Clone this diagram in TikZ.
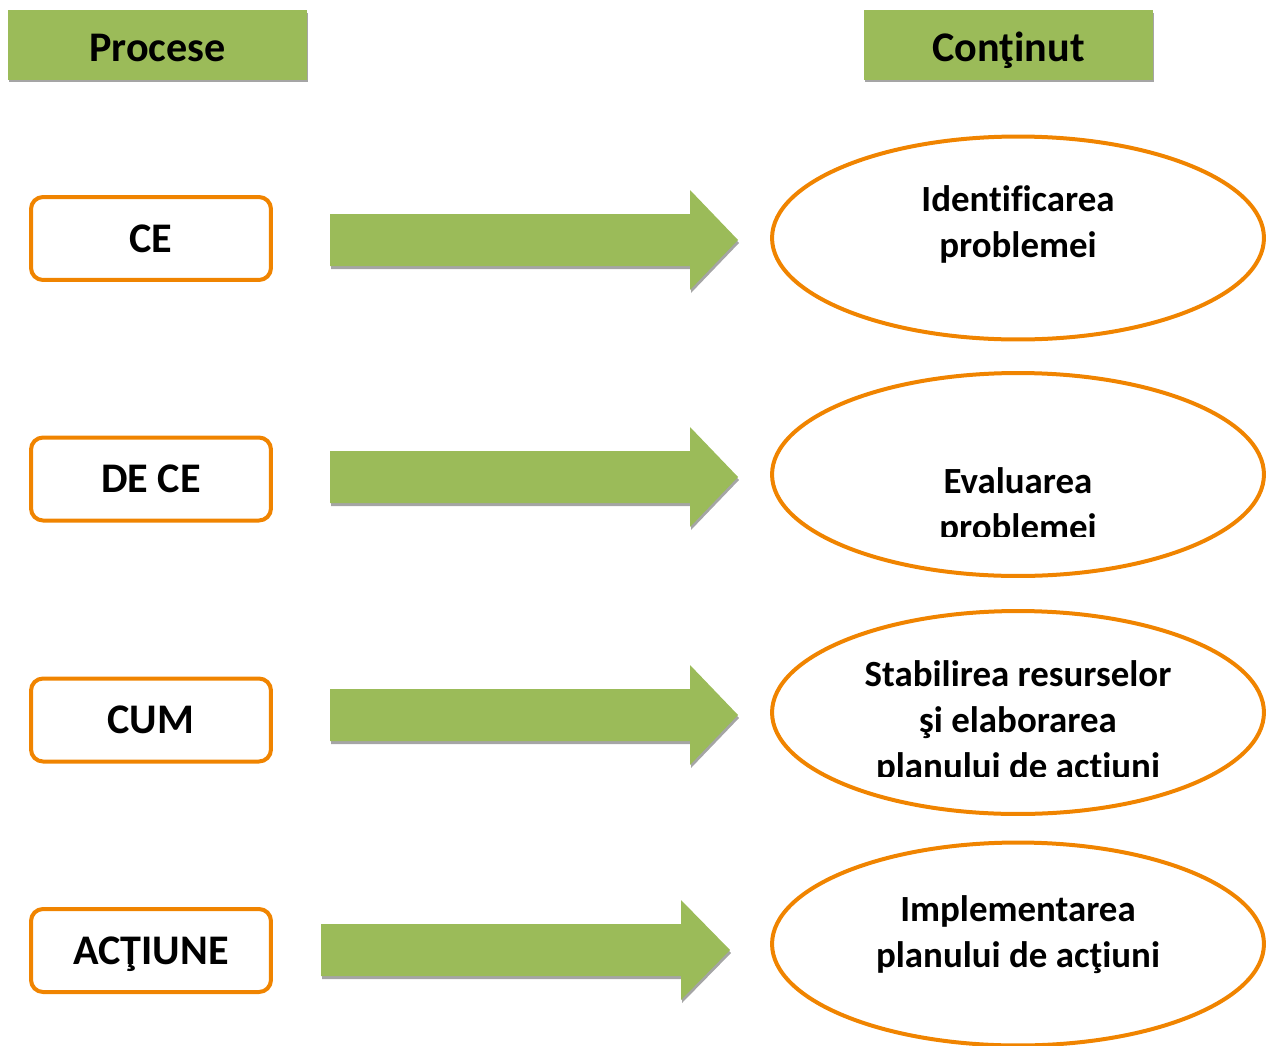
\documentclass[tikz,border=0pt]{standalone}
\usepackage{fontspec}
\setmainfont[Ligatures=NoCommon]{Carlito}
\usetikzlibrary{shapes.geometric,shadows}

\definecolor{hdrgreen}{RGB}{155,187,89}
\definecolor{boxorange}{RGB}{240,132,0}
\definecolor{shadowgray}{RGB}{165,165,165}

\tikzset{
  header/.style={fill=hdrgreen, minimum height=1.4cm, inner sep=0pt,
    text height=0.68cm, text depth=0pt,
    font=\fontsize{24}{29}\selectfont\bfseries,
    drop shadow={shadow xshift=0.02cm, shadow yshift=-0.05cm, fill=shadowgray, opacity=1}},
  procbox/.style={draw=boxorange, line width=0.08cm, rounded corners=0.24cm,
    minimum width=4.8cm, minimum height=1.66cm, inner sep=0pt, text depth=0pt,
    font=\fontsize{24}{29}\selectfont\bfseries},
  greenarrow/.style={fill=hdrgreen,
    drop shadow={shadow xshift=0.02cm, shadow yshift=-0.06cm, fill=shadowgray, opacity=1}},
  contentell/.style={ellipse, draw=boxorange, line width=0.08cm,
    minimum width=9.84cm, minimum height=4.06cm, inner sep=0pt},
  contenttext/.style={align=center, anchor=base, inner sep=0pt,
    font=\fontsize{21}{26}\selectfont\bfseries}
}

\begin{document}
\begin{tikzpicture}[x=0.02cm, y=-0.02cm]
  \useasboundingbox (0,0) rectangle (1274,1045);
  \clip (0,0) rectangle (1274,1045);

  \node[header, minimum width=5.98cm] (procese) at (157.5,45) {Procese};
  \node[header, minimum width=5.78cm] (continut) at (1008.5,45) {Conţinut};

  \node[procbox] (ce) at (151,238.5) {CE};
  \node[procbox] (dece) at (151,479) {DE CE};
  \node[procbox] (cum) at (151,720) {CUM};
  \node[procbox] (actiune) at (151,950.5) {ACŢIUNE};

  \coordinate (a1) at (330,240);
  \coordinate (a2) at (330,477);
  \coordinate (a3) at (330,715);
  \coordinate (a4) at (321,950);
  \fill[greenarrow] (a1) ++(0,-26) -- ++(360,0) -- ++(0,-24) -- ++(48,50) -- ++(-48,50) -- ++(0,-24) -- ++(-360,0) -- cycle;
  \fill[greenarrow] (a2) ++(0,-26) -- ++(360,0) -- ++(0,-24) -- ++(48,50) -- ++(-48,50) -- ++(0,-24) -- ++(-360,0) -- cycle;
  \fill[greenarrow] (a3) ++(0,-26) -- ++(360,0) -- ++(0,-24) -- ++(48,50) -- ++(-48,50) -- ++(0,-24) -- ++(-360,0) -- cycle;
  \fill[greenarrow] (a4) ++(0,-26) -- ++(360,0) -- ++(0,-24) -- ++(49,50) -- ++(-49,50) -- ++(0,-24) -- ++(-360,0) -- cycle;

  \node[contentell] (e1) at (1018,238) {};
  \node[contentell] (e2) at (1018,474.5) {};
  \node[contentell] (e3) at (1018,712.5) {};
  \node[contentell] (e4) at (1018,944) {};

  \node[contenttext] (t1) at (1018,257) {Identificarea\\problemei};
  \begin{scope}
    \clip (780,380) rectangle (1260,536.5);
    \node[contenttext] (t2) at (1018,539) {Evaluarea\\problemei};
  \end{scope}
  \begin{scope}
    \clip (780,620) rectangle (1260,776.5);
    \node[contenttext] (t3) at (1018,778) {Stabilirea resurselor\\şi elaborarea\\planului de acţiuni};
  \end{scope}
  \node[contenttext] (t4) at (1018,967) {Implementarea\\planului de acţiuni};
\end{tikzpicture}
\end{document}
